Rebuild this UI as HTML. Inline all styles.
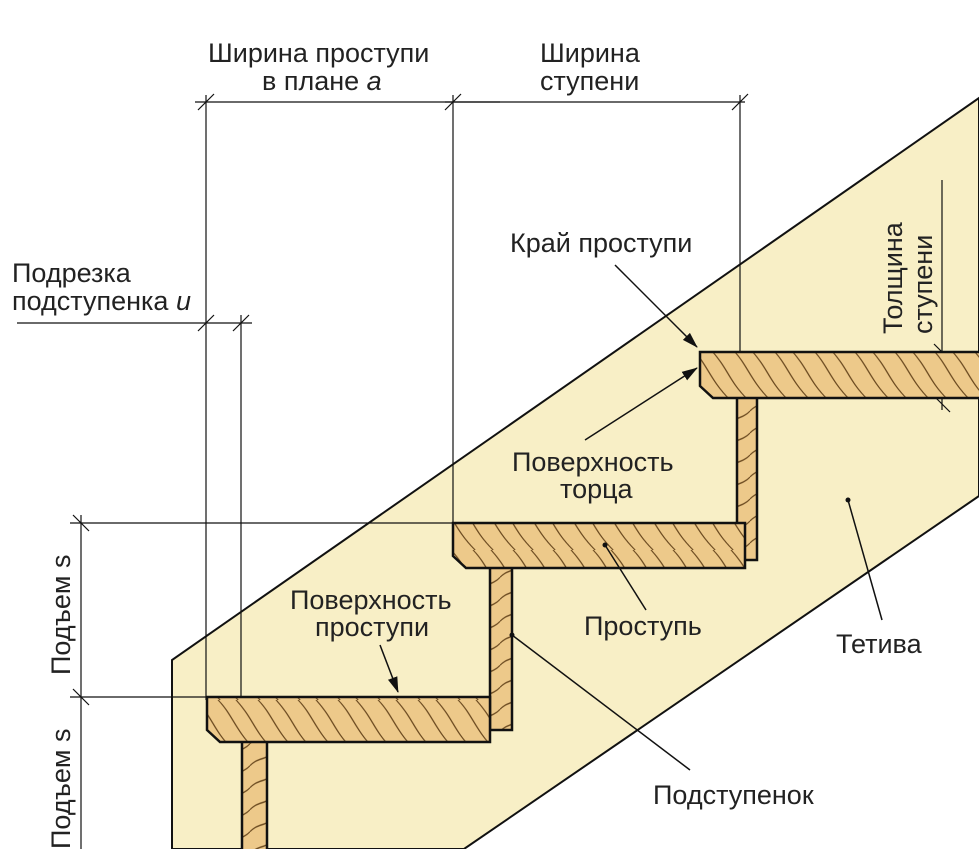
<!DOCTYPE html>
<html><head><meta charset="utf-8"><style>
html,body{margin:0;padding:0;background:#fff}
svg{display:block}
text{font-family:"Liberation Sans",sans-serif;font-size:27px;fill:#222}
</style></head><body>
<svg width="979" height="849" viewBox="0 0 979 849" xmlns="http://www.w3.org/2000/svg">
<defs>
<pattern id="wood" width="40" height="50" patternUnits="userSpaceOnUse" patternTransform="skewX(35)">
<rect width="40" height="50" fill="#edc98a"/>
<path d="M8 0 C12 15 4 30 10 50 M26 0 C30 20 22 30 28 50" stroke="#6b4a20" stroke-width="1.5" fill="none"/>
</pattern>
<pattern id="wood2" width="25" height="22" patternUnits="userSpaceOnUse" patternTransform="skewY(-30)">
<rect width="25" height="22" fill="#edc98a"/>
<path d="M0 8 C8 4 16 12 25 8" stroke="#6b4a20" stroke-width="1.5" fill="none"/>
</pattern>
<marker id="ar" markerWidth="16" markerHeight="12" refX="15" refY="6" orient="auto" markerUnits="userSpaceOnUse"><path d="M0 1 L16 6 L0 11 Z" fill="#111"/></marker>
</defs>
<polygon points="172,849 172,660 979,98 979,496 464,849" fill="#f8efc6" stroke="#111" stroke-width="2"/>
<g stroke="#111" stroke-width="1.2" fill="none">
<line x1="195" y1="102" x2="500" y2="102"/>
<line x1="445" y1="102" x2="745" y2="102"/>
<line x1="206" y1="95" x2="206" y2="700"/>
<line x1="453" y1="95" x2="453" y2="525"/>
<line x1="740" y1="95" x2="740" y2="400"/>
<line x1="17" y1="323" x2="252" y2="323"/>
<line x1="241" y1="315" x2="241" y2="740"/>
<line x1="70" y1="523" x2="453" y2="523"/>
<line x1="70" y1="697" x2="207" y2="697"/>
<line x1="81" y1="515" x2="81" y2="849"/>
<line x1="942" y1="180" x2="942" y2="410"/>
<line x1="920" y1="369" x2="979" y2="369" stroke-dasharray="20 4 3 4"/>
<line x1="680" y1="543" x2="745" y2="543" stroke-dasharray="20 4 3 4"/>
<line x1="435" y1="714" x2="490" y2="714" stroke-dasharray="20 4 3 4"/>
<line x1="198" y1="110" x2="214" y2="94"/><line x1="445" y1="110" x2="461" y2="94"/><line x1="732" y1="110" x2="748" y2="94"/>
<line x1="198" y1="331" x2="214" y2="315"/><line x1="233" y1="331" x2="249" y2="315"/>
<line x1="73" y1="515" x2="89" y2="531"/><line x1="73" y1="689" x2="89" y2="705"/>
<line x1="934" y1="344" x2="950" y2="360"/><line x1="934" y1="396" x2="950" y2="412"/>
</g>
<g stroke="#111" stroke-width="2.5">
<rect x="242" y="735" width="25" height="120" fill="url(#wood2)"/>
<rect x="490" y="560" width="22" height="170" fill="url(#wood2)"/>
<rect x="737" y="388" width="20" height="172" fill="url(#wood2)"/>
</g>
<g stroke="#111" stroke-width="2.5" fill="url(#wood)">
<path d="M207 697 H490 V742 H220 L207 730 Z"/>
<path d="M453 523 H745 V568 H466 L453 556 Z"/>
<path d="M700 352 H985 V398 H713 L700 386 Z"/>
</g>
<g stroke="#111" stroke-width="1.5" fill="none">
<line x1="615" y1="265" x2="697" y2="347" marker-end="url(#ar)"/>
<line x1="585" y1="440" x2="697" y2="368" marker-end="url(#ar)"/>
<line x1="380" y1="645" x2="398" y2="692" marker-end="url(#ar)"/>
<line x1="646" y1="610" x2="605" y2="545"/>
<line x1="690" y1="770" x2="512" y2="635"/>
<line x1="882" y1="620" x2="848" y2="500"/>
</g>
<circle cx="605" cy="545" r="2.5" fill="#111"/><circle cx="512" cy="635" r="2.5" fill="#111"/><circle cx="848" cy="500" r="2.5" fill="#111"/>
<text x="208" y="62">Ширина проступи</text>
<text x="262" y="90">в плане <tspan font-style="italic">a</tspan></text>
<text x="540" y="62">Ширина</text>
<text x="540" y="90">ступени</text>
<text x="12" y="282">Подрезка</text>
<text x="12" y="310">подступенка <tspan font-style="italic">u</tspan></text>
<text x="510" y="252">Край проступи</text>
<text x="512" y="471">Поверхность</text>
<text x="560" y="498">торца</text>
<text x="290" y="609">Поверхность</text>
<text x="315" y="636">проступи</text>
<text x="584" y="635">Проступь</text>
<text x="836" y="653">Тетива</text>
<text x="653" y="804">Подступенок</text>
<text transform="translate(70,675) rotate(-90)">Подъем s</text>
<text transform="translate(70,849) rotate(-90)">Подъем s</text>
<text transform="translate(902,334) rotate(-90)">Толщина</text>
<text transform="translate(932,334) rotate(-90)">ступени</text>
</svg>
</body></html>
